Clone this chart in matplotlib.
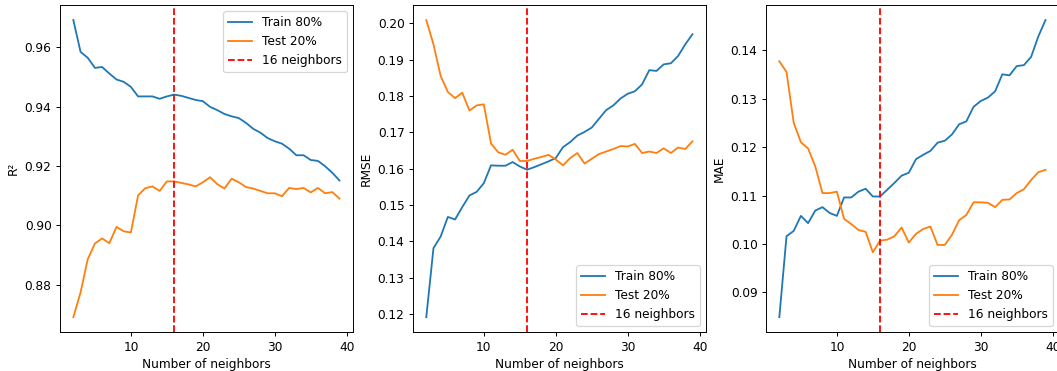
import matplotlib
matplotlib.use("Agg")
import matplotlib.pyplot as plt

neighbors = list(range(2, 40))

r2_train = [0.9691, 0.9584, 0.9564, 0.9530, 0.9533, 0.9511, 0.9491, 0.9483, 0.9466, 0.9434,
            0.9434, 0.9434, 0.9426, 0.9434, 0.9440, 0.9436, 0.9429, 0.9422, 0.9418, 0.9399,
            0.9388, 0.9375, 0.9367, 0.9361, 0.9345, 0.9325, 0.9312, 0.9294, 0.9283, 0.9275,
            0.9258, 0.9236, 0.9236, 0.9220, 0.9217, 0.9199, 0.9177, 0.9151]
r2_test = [0.8691, 0.8774, 0.8886, 0.8939, 0.8956, 0.8940, 0.8995, 0.8980, 0.8976, 0.9101,
           0.9125, 0.9131, 0.9116, 0.9148, 0.9148, 0.9143, 0.9138, 0.9131, 0.9145, 0.9162,
           0.9139, 0.9124, 0.9157, 0.9145, 0.9129, 0.9124, 0.9116, 0.9108, 0.9108, 0.9098,
           0.9126, 0.9122, 0.9126, 0.9111, 0.9126, 0.9108, 0.9112, 0.9090]

rmse_train = [0.1191, 0.1381, 0.1413, 0.1467, 0.1460, 0.1494, 0.1526, 0.1536, 0.1560, 0.1609,
              0.1608, 0.1608, 0.1618, 0.1606, 0.1597, 0.1604, 0.1612, 0.1620, 0.1629, 0.1659,
              0.1673, 0.1691, 0.1701, 0.1713, 0.1737, 0.1761, 0.1774, 0.1793, 0.1806, 0.1813,
              0.1832, 0.1871, 0.1869, 0.1887, 0.1890, 0.1910, 0.1942, 0.1970]
rmse_test = [0.2009, 0.1942, 0.1855, 0.1811, 0.1794, 0.1809, 0.1760, 0.1774, 0.1777, 0.1669,
             0.1645, 0.1638, 0.1652, 0.1621, 0.1621, 0.1627, 0.1632, 0.1638, 0.1625, 0.1609,
             0.1629, 0.1643, 0.1614, 0.1627, 0.1640, 0.1647, 0.1654, 0.1662, 0.1661, 0.1668,
             0.1643, 0.1647, 0.1643, 0.1656, 0.1643, 0.1658, 0.1654, 0.1675]

mae_train = [0.0849, 0.1016, 0.1027, 0.1058, 0.1043, 0.1069, 0.1076, 0.1064, 0.1058, 0.1096,
             0.1096, 0.1108, 0.1114, 0.1098, 0.1098, 0.1112, 0.1126, 0.1141, 0.1147, 0.1175,
             0.1184, 0.1192, 0.1209, 0.1213, 0.1226, 0.1247, 0.1253, 0.1283, 0.1295, 0.1302,
             0.1315, 0.1350, 0.1348, 0.1367, 0.1369, 0.1386, 0.1428, 0.1462]
mae_test = [0.1377, 0.1355, 0.1250, 0.1210, 0.1197, 0.1160, 0.1105, 0.1105, 0.1108, 0.1052,
            0.1041, 0.1029, 0.1025, 0.0983, 0.1007, 0.1009, 0.1016, 0.1034, 0.1003, 0.1021,
            0.1031, 0.1036, 0.0998, 0.0998, 0.1019, 0.1049, 0.1060, 0.1086, 0.1086, 0.1085,
            0.1076, 0.1091, 0.1092, 0.1105, 0.1113, 0.1132, 0.1148, 0.1153]

best_k = 16

dpi = 87
fig = plt.figure(figsize=(1057 / dpi, 371 / dpi), dpi=dpi)
lefts = [0.0568, 0.3907, 0.7247]
panels = [
    ("R²", r2_train, r2_test, "upper right"),
    ("RMSE", rmse_train, rmse_test, "lower right"),
    ("MAE", mae_train, mae_test, "lower right"),
]

for left, (name, tr, te, loc) in zip(lefts, panels):
    ax = fig.add_axes([left, 0.105, 0.277, 0.881])
    ax.plot(neighbors, tr, label="Train 80%")
    ax.plot(neighbors, te, label="Test 20%")
    ax.axvline(best_k, color="red", linestyle="--", label="16 neighbors")
    ax.set_xlabel("Number of neighbors")
    ax.set_ylabel(name)
    ax.legend(loc=loc)

fig.savefig("out.png", dpi=dpi)
